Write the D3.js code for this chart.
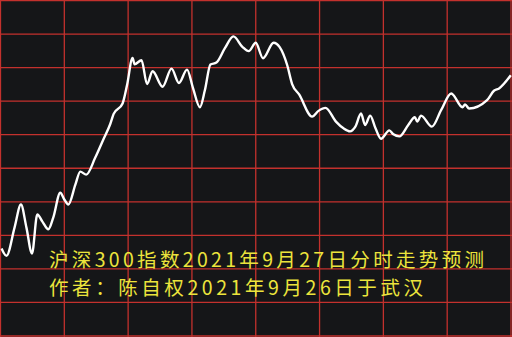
<!DOCTYPE html>
<html>
<head>
<meta charset="utf-8">
<script src="https://cdn.jsdelivr.net/npm/d3@7"></script>
<style>
  html, body { margin: 0; padding: 0; background: #151618; }
  svg { display: block; }
</style>
</head>
<body>
<div id="chart"></div>
<script>
// minutes since open (0..240) and level in grid rows (0 = bottom, 10 = top)
var minutes = [0.5, 2.8, 6.6, 9.6, 12.2, 14.8, 17.3, 19.7, 22.5, 24.8,
  28.1, 30.0, 31.9, 35.2, 37.5, 40.3, 44.5, 48.3, 51.6, 53.2,
  57.4, 59.5, 62.1, 63.0, 66.3, 68.9, 71.5, 76.2, 80.4, 83.9,
  87.7, 90.5, 93.75, 96.1, 98.7, 101.5, 105.5, 109.5, 113.7, 116.7,
  120, 123.4, 128.4, 131.25, 134.8, 137.1, 140.4, 146.5, 149.5, 152.8,
  157.7, 161.25, 164.3, 166.9, 169.5, 171.4, 173.8, 176.25, 178.9, 182.8,
  184.7, 187.5, 191.7, 194.8, 195.9, 197.7, 202.8, 207.2, 211.9, 217.2,
  218.4, 220.3, 228.75, 232.0, 234.4, 239.9];
var levels = [2.61, 2.39, 3.23, 3.92, 3.23, 2.46, 3.62, 3.41, 3.18, 3.53,
  4.27, 4.07, 3.92, 4.51, 4.90, 4.81, 5.31, 5.85, 6.32, 6.62,
  6.93, 7.48, 8.29, 8.10, 8.22, 7.51, 7.89, 7.43, 7.97, 7.54,
  7.94, 7.39, 6.82, 7.33, 8.09, 8.15, 8.58, 8.93, 8.62, 8.49,
  8.74, 8.28, 8.74, 8.61, 8.07, 7.51, 7.20, 6.54, 6.71, 6.80,
  6.39, 6.19, 6.10, 6.25, 6.63, 6.29, 6.57, 6.20, 5.88, 6.13,
  6.01, 5.95, 6.29, 6.52, 6.39, 6.57, 6.24, 6.74, 7.23, 6.82,
  6.90, 6.78, 7.03, 7.31, 7.38, 7.77];

var xTicks = [0, 30, 60, 90, 120, 150, 180, 210, 240];
var yTicks = [0, 1, 2, 3, 4, 5, 6, 7, 8, 9, 10];

var titleLines = ['沪深300指数2021年9月27日分时走势预测', '作者：陈自权2021年9月26日于武汉'];

var width = 512, height = 337;

var svg = d3.select('#chart').append('svg')
  .attr('width', width)
  .attr('height', height);

svg.append('rect')
  .attr('width', width)
  .attr('height', height)
  .attr('fill', '#151618');

var x = d3.scaleLinear().domain([0, 240]).range([0.5, 511]);
var y = d3.scaleLinear().domain([0, 10]).range([336, 0.5]);

// grid
svg.append('g')
  .selectAll('line')
  .data(xTicks)
  .enter().append('line')
    .attr('x1', d => x(d)).attr('x2', d => x(d))
    .attr('y1', 0).attr('y2', height)
    .attr('stroke', '#c3312d')
    .attr('stroke-width', 1.3);

svg.append('g')
  .selectAll('line')
  .data(yTicks)
  .enter().append('line')
    .attr('x1', 0).attr('x2', width)
    .attr('y1', d => y(d)).attr('y2', d => y(d))
    .attr('stroke', '#c3312d')
    .attr('stroke-width', 1.3);

var data = minutes.map((m, i) => ({ t: m, v: levels[i] }));

var line = d3.line()
  .x(d => x(d.t))
  .y(d => y(d.v))
  .curve(d3.curveMonotoneX);

svg.append('path')
  .datum(data)
  .attr('d', line)
  .attr('fill', 'none')
  .attr('stroke', '#ffffff')
  .attr('stroke-width', 2.4)
  .attr('stroke-linejoin', 'round');

// title lines, sized so their boxes do not touch
var textLen = [435, 374];
var baselines = [266.5, 295];

svg.append('g')
  .selectAll('text')
  .data(titleLines)
  .enter().append('text')
    .attr('x', 49)
    .attr('y', (d, i) => baselines[i])
    .attr('textLength', (d, i) => textLen[i])
    .attr('lengthAdjust', 'spacing')
    .attr('fill', '#ece43c')
    .style('font-family', '"Noto Sans CJK SC", sans-serif')
    .style('font-size', '19.5px')
    .text(d => d);
</script>
</body>
</html>
